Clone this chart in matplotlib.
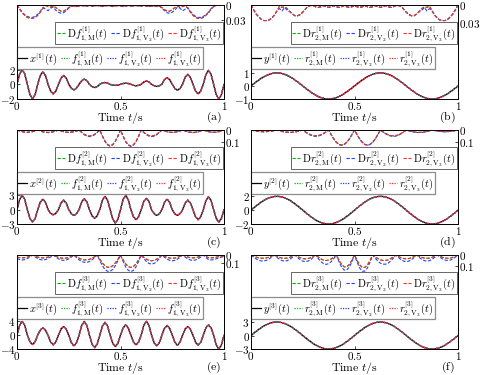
import numpy as np
import matplotlib
matplotlib.use('Agg')
import matplotlib.pyplot as plt
from matplotlib.lines import Line2D

plt.rcParams['font.family'] = 'serif'
plt.rcParams['font.serif'] = ['cmr10', 'DejaVu Serif']
plt.rcParams['mathtext.fontset'] = 'cm'
plt.rcParams['axes.linewidth'] = 0.6

# time grid (s), step 0.0125
t = np.linspace(0, 1, 81)

# ---- main signals (left axis) ----
x1 = [0, 1.41, 2.0, 1.41, 0, -1.41, -2.0, -1.41,
      0, 1.2, 1.7, 1.2, 0, -0.92, -1.3, -0.92,
      0, 0.85, 1.2, 0.85, 0, -0.53, -0.75, -0.53,
      0, 0.49, 0.7, 0.49, 0, -0.32, -0.45, -0.32,
      0, 0.18, 0.25, 0.18, 0, -0.11, -0.15, -0.11,
      0, 0.11, 0.15, 0.11, 0, -0.14, -0.2, -0.14,
      0, 0.32, 0.45, 0.32, 0, -0.21, -0.3, -0.21,
      0, 0.64, 0.9, 0.64, 0, -0.57, -0.8, -0.57,
      0, 0.95, 1.35, 0.95, 0, -0.92, -1.3, -0.92,
      0, 1.34, 1.9, 1.34, 0, -1.41, -2.0, -1.41,
      0]
x2 = [0, 2.12, 3.0, 2.12, 0, -1.84, -2.6, -1.84,
      0, 1.56, 2.2, 1.56, 0, -0.78, -1.1, -0.78,
      0, 1.41, 2.0, 1.41, 0, -0.85, -1.2, -0.85,
      0, 1.63, 2.3, 1.63, 0, -1.27, -1.8, -1.27,
      0, 1.98, 2.8, 1.98, 0, -1.98, -2.8, -1.98,
      0, 2.12, 3.0, 2.12, 0, -1.48, -2.1, -1.48,
      0, 1.7, 2.4, 1.7, 0, -0.85, -1.2, -0.85,
      0, 1.56, 2.2, 1.56, 0, -0.85, -1.2, -0.85,
      0, 1.41, 2.0, 1.41, 0, -1.48, -2.1, -1.48,
      0, 1.91, 2.7, 1.91, 0, -1.84, -2.6, -1.84,
      0]
x3 = [0, 2.83, 4.0, 2.83, 0, -1.91, -2.7, -1.91,
      0, 1.48, 2.1, 1.48, 0, -1.98, -2.8, -1.98,
      0, 1.77, 2.5, 1.77, 0, -2.19, -3.1, -2.19,
      0, 2.83, 4.0, 2.83, 0, -2.55, -3.6, -2.55,
      0, 2.62, 3.7, 2.62, 0, -2.33, -3.3, -2.33,
      0, 2.12, 3.0, 2.12, 0, -1.98, -2.8, -1.98,
      0, 2.83, 4.0, 2.83, 0, -2.19, -3.1, -2.19,
      0, 1.98, 2.8, 1.98, 0, -2.05, -2.9, -2.05,
      0, 1.77, 2.5, 1.77, 0, -2.05, -2.9, -2.05,
      0, 2.12, 3.0, 2.12, 0, -2.83, -4.0, -2.83,
      0]
y1 = [0, .16, .31, .45, .59, .71, .81, .89, .95, .99,
      1, .99, .95, .89, .81, .71, .59, .45, .31, .16,
      0, -.16, -.31, -.45, -.59, -.71, -.81, -.89, -.95, -.99,
      -1, -.99, -.95, -.89, -.81, -.71, -.59, -.45, -.31, -.16,
      0, .16, .31, .45, .59, .71, .81, .89, .95, .99,
      1, .99, .95, .89, .81, .71, .59, .45, .31, .16,
      0, -.16, -.31, -.45, -.59, -.71, -.81, -.89, -.95, -.99,
      -1, -.99, -.95, -.89, -.81, -.71, -.59, -.45, -.31, -.16,
      0]
y2 = [2 * v for v in y1]
y3 = [3 * v for v in y1]

# ---- fitting errors (right axis, magnitude, axis drawn downward) ----
df1_V3 = [0.000, 0.008, 0.015, 0.020, 0.024, 0.026, 0.026, 0.024,
          0.020, 0.014, 0.006, 0.001, 0.003, 0.004, 0.002, 0.005,
          0.009, 0.012, 0.012, 0.009, 0.005, 0.002, 0.002, 0.003,
          0.002, 0.001, 0.002, 0.002, 0.001, 0.002, 0.002, 0.001,
          0.002, 0.003, 0.002, 0.001, 0.002, 0.003, 0.002, 0.001,
          0.002, 0.003, 0.002, 0.001, 0.002, 0.002, 0.001, 0.002,
          0.002, 0.001, 0.002, 0.003, 0.002, 0.002, 0.003, 0.002,
          0.005, 0.009, 0.012, 0.012, 0.009, 0.005, 0.002, 0.004,
          0.003, 0.001, 0.006, 0.014, 0.020, 0.024, 0.026, 0.026,
          0.024, 0.020, 0.015, 0.008, 0.003, 0.001, 0.000, 0.000,
          0.000]
df1_V2 = [0.000, 0.007, 0.014, 0.019, 0.022, 0.024, 0.024, 0.022,
          0.018, 0.012, 0.005, 0.008, 0.011, 0.006, 0.004, 0.010,
          0.014, 0.016, 0.015, 0.011, 0.006, 0.002, 0.002, 0.003,
          0.002, 0.001, 0.002, 0.002, 0.001, 0.002, 0.002, 0.001,
          0.002, 0.003, 0.002, 0.001, 0.002, 0.003, 0.002, 0.001,
          0.002, 0.003, 0.002, 0.001, 0.002, 0.002, 0.001, 0.002,
          0.002, 0.001, 0.002, 0.003, 0.002, 0.002, 0.003, 0.002,
          0.006, 0.011, 0.015, 0.016, 0.014, 0.010, 0.004, 0.006,
          0.011, 0.008, 0.005, 0.012, 0.018, 0.022, 0.024, 0.024,
          0.022, 0.019, 0.014, 0.007, 0.003, 0.001, 0.000, 0.000,
          0.000]
df1_M = df1_V3  # green lies under red

dr1_V3 = [0.000, 0.008, 0.015, 0.020, 0.024, 0.026, 0.026, 0.025,
          0.022, 0.017, 0.010, 0.002, 0.004, 0.003, 0.006, 0.011,
          0.015, 0.018, 0.018, 0.016, 0.012, 0.007, 0.002, 0.001,
          0.001, 0.003, 0.004, 0.003, 0.001, 0.003, 0.004, 0.003,
          0.001, 0.003, 0.004, 0.003, 0.001, 0.003, 0.004, 0.003,
          0.001, 0.003, 0.004, 0.003, 0.001, 0.003, 0.004, 0.003,
          0.001, 0.003, 0.004, 0.003, 0.001, 0.003, 0.004, 0.003,
          0.001, 0.001, 0.002, 0.007, 0.012, 0.016, 0.018, 0.018,
          0.015, 0.011, 0.006, 0.003, 0.004, 0.002, 0.010, 0.017,
          0.022, 0.025, 0.026, 0.026, 0.024, 0.020, 0.015, 0.008,
          0.000]
dr1_V2 = [0.000, 0.008, 0.015, 0.020, 0.024, 0.026, 0.026, 0.025,
          0.022, 0.017, 0.010, 0.006, 0.010, 0.004, 0.009, 0.011,
          0.015, 0.018, 0.018, 0.016, 0.012, 0.007, 0.002, 0.001,
          0.001, 0.003, 0.004, 0.003, 0.001, 0.003, 0.004, 0.003,
          0.001, 0.003, 0.004, 0.003, 0.001, 0.003, 0.004, 0.003,
          0.001, 0.003, 0.004, 0.003, 0.001, 0.003, 0.004, 0.003,
          0.001, 0.003, 0.004, 0.003, 0.001, 0.003, 0.004, 0.003,
          0.001, 0.001, 0.002, 0.007, 0.012, 0.016, 0.018, 0.018,
          0.015, 0.011, 0.009, 0.004, 0.010, 0.006, 0.010, 0.017,
          0.022, 0.025, 0.026, 0.026, 0.024, 0.020, 0.015, 0.008,
          0.000]
dr1_M = dr1_V3

df2_V3 = [0, .008, .014, .018, .020, .018, .014, .008,
          0, .008, .014, .018, .020, .018, .014, .008,
          0, .008, .014, .018, .020, .018, .014, .008,
          0, .019, .036, .046, .050, .046, .036, .019,
          0, .051, .095, .123, .134, .123, .095, .051,
          0, .051, .095, .123, .134, .123, .095, .051,
          0, .019, .036, .046, .050, .046, .036, .019,
          0, .008, .014, .018, .020, .018, .014, .008,
          0, .008, .014, .018, .020, .018, .014, .008,
          0, .008, .014, .018, .020, .018, .014, .008,
          0]
df2_V2 = [0, .007, .013, .017, .018, .017, .013, .007,
          0, .008, .016, .020, .022, .020, .016, .008,
          0, .008, .014, .018, .020, .018, .014, .008,
          0, .021, .039, .051, .055, .051, .039, .021,
          0, .049, .092, .120, .130, .120, .092, .049,
          0, .052, .097, .125, .136, .125, .097, .052,
          0, .021, .039, .051, .055, .051, .039, .021,
          0, .008, .014, .018, .020, .018, .014, .008,
          0, .008, .016, .020, .022, .020, .016, .008,
          0, .007, .013, .017, .018, .017, .013, .007,
          0]
df2_M = df2_V3

dr2_V3 = [0, .005, .009, .012, .014, .015, .014, .012, .009, .005,
          0, .006, .012, .016, .019, .020, .019, .016, .012, .006,
          0, .016, .030, .041, .048, .050, .048, .041, .030, .016,
          0, .040, .077, .105, .124, .130, .124, .105, .077, .040,
          0, .040, .077, .105, .124, .130, .124, .105, .077, .040,
          0, .016, .030, .041, .048, .050, .048, .041, .030, .016,
          0, .006, .012, .016, .019, .020, .019, .016, .012, .006,
          0, .005, .009, .012, .014, .015, .014, .012, .009, .005,
          0]
dr2_V2 = [0, .005, .009, .012, .014, .015, .014, .012, .009, .005,
          0, .007, .013, .018, .021, .022, .021, .018, .013, .007,
          0, .017, .032, .045, .052, .055, .052, .045, .032, .017,
          0, .041, .078, .107, .125, .132, .125, .107, .078, .041,
          0, .041, .078, .107, .125, .132, .125, .107, .078, .041,
          0, .017, .032, .045, .052, .055, .052, .045, .032, .017,
          0, .007, .013, .018, .021, .022, .021, .018, .013, .007,
          0, .005, .009, .012, .014, .015, .014, .012, .009, .005,
          0]
dr2_M = dr2_V3

df3_V3 = [.025, .032, .035, .032, .025, .013,
          0, .013, .025, .032, .035, .032, .025, .013,
          0, .015, .028, .037, .040, .037, .028, .015,
          0, .021, .038, .052, .059, .059, .052, .038, .021,
          0, .051, .096, .130, .148, .148, .130, .096, .051,
          0, .057, .107, .138, .150, .138, .107, .057,
          0, .027, .050, .064, .070, .064, .050, .027,
          0, .015, .028, .037, .040, .037, .028, .015,
          0, .013, .025, .032, .035, .032, .025, .013,
          0, .017, .032, .035, .032, .026, .020, .015, .012]
df3_V2 = [.042, .055, .060, .055, .042, .023,
          0, .023, .043, .055, .060, .055, .043, .023,
          0, .025, .046, .060, .065, .060, .046, .025,
          0, .031, .058, .078, .088, .088, .078, .058, .031,
          0, .068, .128, .174, .196, .196, .174, .128, .068,
          0, .076, .142, .184, .200, .184, .142, .076,
          0, .042, .078, .101, .110, .101, .078, .042,
          0, .027, .050, .064, .070, .064, .050, .027,
          0, .025, .046, .060, .065, .060, .046, .025,
          0, .030, .055, .060, .055, .045, .035, .025, .020]
df3_M = df3_V3

dr3_V3 = [0, .010, .019, .026, .029, .029, .026, .019, .010,
          0, .011, .021, .028, .030, .028, .021, .011,
          0, .013, .025, .032, .035, .032, .025, .013,
          0, .019, .036, .046, .050, .046, .036, .019,
          0, .047, .086, .107, .107, .086, .047,
          0, .049, .090, .112, .112, .090, .049,
          0, .017, .032, .044, .049, .049, .044, .032, .017,
          0, .013, .025, .032, .035, .032, .025, .013,
          0, .011, .021, .028, .030, .028, .021, .011,
          0, .011, .021, .028, .030, .028, .021, .011,
          0]
dr3_V2 = [0, .019, .035, .048, .054, .054, .048, .035, .019,
          0, .021, .039, .051, .055, .051, .039, .021,
          0, .023, .043, .055, .060, .055, .043, .023,
          0, .032, .060, .078, .085, .078, .060, .032,
          0, .060, .109, .136, .136, .109, .060,
          0, .065, .117, .146, .146, .117, .065,
          0, .029, .054, .074, .083, .083, .074, .054, .029,
          0, .023, .043, .055, .060, .055, .043, .023,
          0, .021, .039, .051, .055, .051, .039, .021,
          0, .019, .036, .046, .050, .046, .036, .019,
          0]
dr3_M = dr3_V3

GREEN = '#00b400'
BLUE = '#2040ff'
RED = '#ff2a2a'

fig = plt.figure(figsize=(4.8, 3.75), dpi=100)


def mlabels(fn, idx, k):
    subs = [r'\mathrm{M}', r'\mathrm{V}_2', r'\mathrm{V}_3']
    return ['$' + fn + '^{[%d]}_{%d,%s}(t)$' % (k, idx, s) for s in subs]


def panel(px_left, px_top, main, fits, errs, ylo, yhi, ytk, rhi, rtk,
          mname, fname, idx, k, tag):
    W, H = 480.0, 375.0
    ax = fig.add_axes([px_left / W, 1 - (px_top + 94) / H, 207 / W, 94 / H])
    ax2 = ax.twinx()

    ax.plot(t, main, color='k', lw=0.9)
    for f, c in zip(fits, [GREEN, BLUE, RED]):
        ax.plot(t, f, color=c, lw=1.0, ls=(0, (1, 0.8)))
    for e, c in zip(errs, [GREEN, BLUE, RED]):
        ax2.plot(t, e, color=c, lw=0.8, ls=(0, (3, 1.5)))

    ax.set_xlim(0, 1)
    ax.set_ylim(ylo, yhi)
    ax.set_yticks(ytk)
    ax.set_yticklabels(['$%g$' % v for v in ytk])
    ax.set_xticks([0, 0.5, 1])
    ax.set_xticklabels(['$0$', '$0.5$', '$1$'])
    ax2.set_ylim(rhi, 0)
    ax2.set_yticks([0, rtk])
    ax2.set_yticklabels(['$0$', '$%g$' % rtk])
    for a in (ax, ax2):
        a.tick_params(direction='in', length=2.5, width=0.5, labelsize=8, pad=1)
    ax.text(0.5, -0.2, r'$\mathrm{Time}\ t/\mathrm{s}$', transform=ax.transAxes,
            ha='center', va='center', fontsize=8.5)
    ax.text(0.95, -0.2, '$\\mathrm{(%s)}$' % tag, transform=ax.transAxes,
            ha='center', va='center', fontsize=8.5)

    eh = [Line2D([], [], color=c, lw=0.8, ls=(0, (3, 1.5))) for c in [GREEN, BLUE, RED]]
    el = mlabels(r'\mathrm{D}' + fname, idx, k)
    leg1 = ax2.legend(eh, el, loc='upper right', bbox_to_anchor=(0.995, 0.819),
                      ncol=3, fontsize=7.6, handlelength=0.8, handletextpad=0.2,
                      columnspacing=0.35, borderpad=0.12, borderaxespad=0,
                      fancybox=False, edgecolor='0.3', framealpha=1)
    leg1.get_frame().set_linewidth(0.6)

    mh = [Line2D([], [], color='k', lw=0.9)] + \
         [Line2D([], [], color=c, lw=0.9, ls=(0, (1, 1))) for c in [GREEN, BLUE, RED]]
    ml = ['$%s^{[%d]}(t)$' % (mname, k)] + mlabels(fname, idx, k)
    leg2 = ax.legend(mh, ml, loc='upper left', bbox_to_anchor=(0.0, 0.553),
                     ncol=4, fontsize=7.6, handlelength=0.8, handletextpad=0.2,
                     columnspacing=0.35, borderpad=0.12, borderaxespad=0,
                     fancybox=False, edgecolor='0.55', framealpha=1)
    leg2.get_frame().set_linewidth(0.9)


panel(17, 5, x1, [x1, x1, x1], [df1_M, df1_V2, df1_V3], -2, 10.8, [-2, 0, 2], 0.182, 0.03, 'x', 'f', 1, 1, 'a')
panel(251, 5, y1, [y1, y1, y1], [dr1_M, dr1_V2, dr1_V3], -1, 6.2, [-1, 0, 1], 0.157, 0.03, 'y', 'r', 2, 1, 'b')
panel(17, 130, x2, [x2, x2, x2], [df2_M, df2_V2, df2_V3], -3, 16.7, [-3, 0, 3], 0.78, 0.1, 'x', 'f', 1, 2, 'c')
panel(251, 130, y2, [y2, y2, y2], [dr2_M, dr2_V2, dr2_V3], -2, 11.6, [-2, 0, 2], 0.81, 0.1, 'y', 'r', 2, 2, 'd')
panel(17, 255, x3, [x3, x3, x3], [df3_M, df3_V2, df3_V3], -4, 23.2, [-4, 0, 4], 1.13, 0.1, 'x', 'f', 1, 3, 'e')
panel(251, 255, y3, [y3, y3, y3], [dr3_M, dr3_V2, dr3_V3], -3, 17.9, [-3, 0, 3], 0.85, 0.1, 'y', 'r', 2, 3, 'f')

fig.savefig('out.png', dpi=100, facecolor='white')
